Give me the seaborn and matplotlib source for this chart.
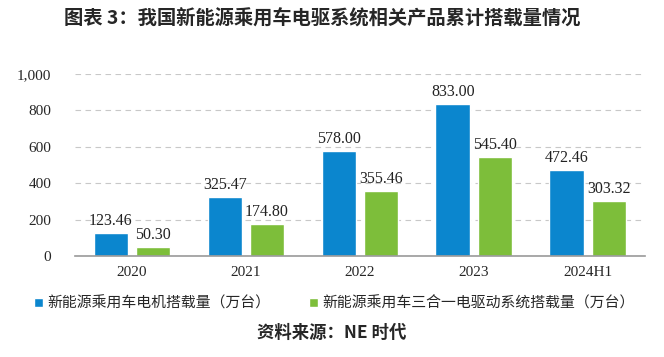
import pandas as pd
import numpy as np
import matplotlib
matplotlib.use('Agg')
import matplotlib.pyplot as plt
import seaborn as sns

# Data
years = ['2020', '2021', '2022', '2023', '2024H1']
motor = [123.46, 325.47, 578.00, 833.00, 472.46]
three_in_one = [50.30, 174.80, 355.46, 545.40, 303.32]
series_names = ['新能源乘用车电机搭载量（万台）', '新能源乘用车三合一电驱动系统搭载量（万台）']
yticks = [0, 200, 400, 600, 800, 1000]

BLUE = '#0B86CE'
GREEN = '#7DBE3A'

sns.set_theme(style='white')
plt.rcParams['font.family'] = ['Liberation Serif', 'Noto Sans CJK SC', 'DejaVu Sans']

df = pd.DataFrame({
    'year': years * 2,
    'value': motor + three_in_one,
    'series': [series_names[0]] * len(years) + [series_names[1]] * len(years),
})

fig = plt.figure(figsize=(6.64, 3.57), dpi=100)
ax = fig.add_axes([0.113, 0.283, 0.858, 0.51])

sns.barplot(data=df, x='year', y='value', hue='series',
            palette=[BLUE, GREEN], width=0.74, gap=0.18,
            saturation=1, legend=True, ax=ax)

for container in ax.containers:
    ax.bar_label(container, fmt='%.2f', padding=3, fontsize=11.5, color='#222222',
                 family='Liberation Serif')

ax.set_xlim(-0.5, len(years) - 0.5)
ax.set_ylim(0, 1000)
ax.set_yticks(yticks)
ax.set_yticklabels([f'{v:,}' for v in yticks], fontsize=11, family='Liberation Serif')
ax.set_xticks(range(len(years)))
ax.set_xticklabels(years, fontsize=11, family='Liberation Serif')
ax.tick_params(axis='y', length=0, pad=17)
ax.tick_params(axis='x', length=0, pad=7)
ax.set_xlabel('')
ax.set_ylabel('')

# small tick marks at category boundaries
ax.set_xticks(np.arange(-0.5, len(years)), minor=True)
ax.tick_params(axis='x', which='minor', length=3, color='#999999', width=1)

ax.yaxis.grid(True, linestyle=(0, (5, 4)), color='#C8C8C8', linewidth=0.8)
ax.set_axisbelow(True)
for side in ['top', 'right', 'left']:
    ax.spines[side].set_visible(False)
ax.spines['bottom'].set_color('#999999')
ax.spines['bottom'].set_linewidth(1.2)

handles, labels = ax.get_legend_handles_labels()
ax.legend(handles, labels, loc='upper center', bbox_to_anchor=(0.455, -0.15),
          ncol=2, frameon=False, handlelength=0.6, handleheight=0.6,
          handletextpad=0.3, columnspacing=2.6,
          prop={'family': 'Noto Sans CJK SC', 'size': 10.7})

fig.text(0.485, 0.948, '图表 3：我国新能源乘用车电驱系统相关产品累计搭载量情况',
         ha='center', va='center', fontsize=13.9, fontweight='bold',
         family=['Noto Sans CJK SC', 'DejaVu Sans'])
fig.text(0.5, 0.067, '资料来源：NE 时代',
         ha='center', va='center', fontsize=12.5, fontweight='bold',
         family=['Noto Sans CJK SC', 'DejaVu Sans'])

plt.savefig('out.png', dpi=100)
plt.close()
